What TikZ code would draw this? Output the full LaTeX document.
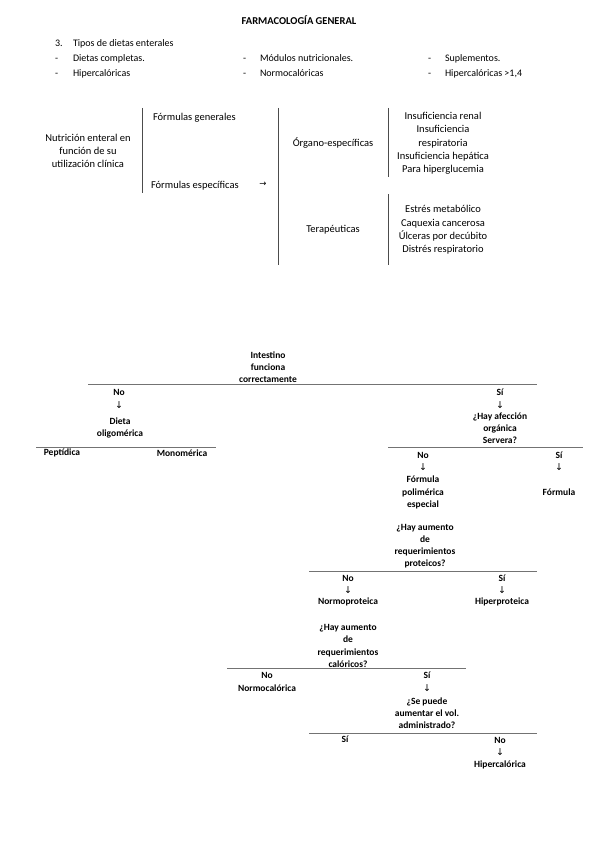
\documentclass[tikz,border=0pt]{standalone}
\usepackage{fontspec}
\setmainfont{Carlito}
\newfontfamily\arrowfont{DejaVu Sans}
\begin{document}
\begin{tikzpicture}[x=1pt,y=-1pt,
  every node/.style={inner sep=0pt, outer sep=0pt},
  titletxt/.style={font=\fontsize{10.5}{12}\selectfont\bfseries},
  listtxt/.style={font=\fontsize{10}{12}\selectfont, anchor=base west},
  tbl/.style={font=\fontsize{10.5}{13.3}\selectfont, align=center},
  tree/.style={font=\fontsize{9.5}{12.2}\selectfont\bfseries, align=center},
  arrowtxt/.style={font=\arrowfont\fontsize{9.5}{10}\selectfont},
  hrule/.style={draw=black!55, line width=0.7pt},
  vrule/.style={draw=black!70, line width=0.7pt}]
\useasboundingbox[fill=white] (0,0) rectangle (599,848);

% ---------- header ----------
\node[titletxt] (title) at (299,20) {FARMACOLOGÍA GENERAL};
\node[listtxt] (n3) at (55,46.5) {3.};
\node[listtxt] (tipos) at (73,46.5) {Tipos de dietas enterales};
\node[listtxt] (d1) at (55,61.5) {-};
\node[listtxt] (comp) at (73,61.5) {Dietas completas.};
\node[listtxt] (d2) at (243,61.5) {-};
\node[listtxt] (mod) at (260,61.5) {Módulos nutricionales.};
\node[listtxt] (d3) at (428,61.5) {-};
\node[listtxt] (sup) at (445,61.5) {Suplementos.};
\node[listtxt] (d4) at (55,76.5) {-};
\node[listtxt] (hip1) at (73,76.5) {Hipercalóricas};
\node[listtxt] (d5) at (243,76.5) {-};
\node[listtxt] (norm) at (260,76.5) {Normocalóricas};
\node[listtxt] (d6) at (428,76.5) {-};
\node[listtxt] (hip2) at (445,76.5) {Hipercalóricas >1,4};

% ---------- table ----------
\node[tbl] (nut) at (88,151) {Nutrición enteral en\\función de su\\utilización clínica};
\node[tbl, anchor=west] (fgen) at (153,118) {Fórmulas generales};
\node[tbl, anchor=west] (fesp) at (151,186) {Fórmulas específicas};
\node[font=\arrowfont\fontsize{8.5}{10}\selectfont] (arr) at (263,184) {→};
\node[tbl] (org) at (333,143) {Órgano-específicas};
\node[tbl] (ter) at (333,230) {Terapéuticas};
\node[tbl] (orgl) at (443,143.5) {Insuficiencia renal\\Insuficiencia\\respiratoria\\Insuficiencia hepática\\Para hiperglucemia};
\node[tbl] (terl) at (443,230) {Estrés metabólico\\Caquexia cancerosa\\Úlceras por decúbito\\Distrés respiratorio};

\coordinate (v1a) at (142,108); \coordinate (v1b) at (142,193);
\coordinate (v2a) at (278,108); \coordinate (v2b) at (278,265);
\coordinate (v3a) at (388,108); \coordinate (v3b) at (388,177);
\coordinate (v4a) at (388,194); \coordinate (v4b) at (388,265);
\draw[vrule] (v1a) -- (v1b);
\draw[vrule] (v2a) -- (v2b);
\draw[vrule] (v3a) -- (v3b);
\draw[vrule] (v4a) -- (v4b);

% ---------- tree ----------
\node[tree] (int) at (268,367) {Intestino\\funciona\\correctamente};
\coordinate (h1a) at (88,384); \coordinate (h1b) at (537,384);
\draw[hrule] (h1a) -- (h1b);

\node[tree] (no1) at (119,392) {No};
\node[arrowtxt] (ar1) at (119,405) {↓};
\node[tree] (dieta) at (120,428) {Dieta\\oligomérica};
\coordinate (h2a) at (36,447); \coordinate (h2b) at (216,447);
\draw[hrule] (h2a) -- (h2b);
\node[tree] (pep) at (62,453) {Peptídica};
\node[tree] (mono) at (182,453) {Monomérica};

\node[tree] (si1) at (500,392) {Sí};
\node[arrowtxt] (ar2) at (500,405) {↓};
\node[tree] (afec) at (500,428) {¿Hay afección\\orgánica\\Servera?};
\coordinate (h3a) at (388,447); \coordinate (h3b) at (583,447);
\draw[hrule] (h3a) -- (h3b);

\node[tree] (no2) at (423,455) {No};
\node[arrowtxt] (ar3) at (423,467) {↓};
\node[tree] (poli) at (423,492.5) {Fórmula\\polimérica\\especial};
\node[tree] (si2) at (559,455) {Sí};
\node[arrowtxt] (ar4) at (559,467) {↓};
\node[tree] (form) at (559,492) {Fórmula};

\node[tree] (prot) at (425,546) {¿Hay aumento\\de\\requerimientos\\proteicos?};
\coordinate (h4a) at (309,571); \coordinate (h4b) at (537,571);
\draw[hrule] (h4a) -- (h4b);

\node[tree] (no3) at (348,578) {No};
\node[arrowtxt] (ar5) at (348,590) {↓};
\node[tree] (normo) at (348,602) {Normoproteica};
\node[tree] (si3) at (502,578) {Sí};
\node[arrowtxt] (ar6) at (502,590) {↓};
\node[tree] (hiperp) at (502,602) {Hiperproteica};

\node[tree] (cal) at (348,646) {¿Hay aumento\\de\\requerimientos\\calóricos?};
\coordinate (h5a) at (227,668); \coordinate (h5b) at (466,668);
\draw[hrule] (h5a) -- (h5b);

\node[tree] (no4) at (267,675) {No};
\node[tree] (normoc) at (267,688) {Normocalórica};
\node[tree] (si4) at (427,675) {Sí};
\node[arrowtxt] (ar7) at (427,688) {↓};
\node[tree] (vol) at (427,713) {¿Se puede\\aumentar el vol.\\administrado?};
\coordinate (h6a) at (309,733); \coordinate (h6b) at (537,733);
\draw[hrule] (h6a) -- (h6b);

\node[tree] (si5) at (345,739) {Sí};
\node[tree] (no5) at (500,740) {No};
\node[arrowtxt] (ar8) at (500,752) {↓};
\node[tree] (hiperc) at (500,765) {Hipercalórica};
\end{tikzpicture}
\end{document}
